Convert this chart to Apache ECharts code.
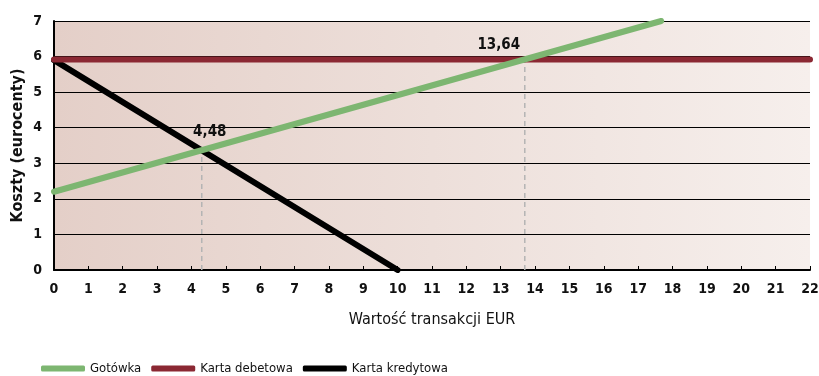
<!DOCTYPE html>
<html><head><meta charset="utf-8">
<script src="https://cdn.jsdelivr.net/npm/echarts@6/dist/echarts.min.js"></script>
<style>html,body{margin:0;padding:0;background:#fff}#c{width:819px;height:376px}</style>
</head><body><div id="c"></div>
<script>
const seriesNames = ['Gotówka', 'Karta debetowa', 'Karta kredytowa'];
const gotowka = [[0, 2.2], [17.67, 7.0]];
const debetowa = [[0, 5.92], [22, 5.92]];
const kredytowa = [[0, 5.9], [10, 0]];
const crossPoints = [[4.3, 3.37], [13.7, 5.92]];
const crossLabels = ['4,48', '13,64'];
const xTicks = {min: 0, max: 22, interval: 1};
const yTicks = {min: 0, max: 7, interval: 1};

const FONT = "'Liberation Sans Narrow','DejaVu Sans Condensed',sans-serif";
const colors = {g: '#7db671', r: '#8b2833', k: '#000000'};

const chart = echarts.init(document.getElementById('c'), null, {renderer: 'canvas'});
chart.setOption({
  animation: false,
  textStyle: {fontFamily: FONT},
  grid: {
    left: 54, right: 9, top: 21, bottom: 106, show: true, borderWidth: 0,
    outerBoundsMode: 'none', containLabel: false,
    backgroundColor: {type: 'linear', x: 0, y: 0, x2: 1, y2: 0,
      colorStops: [{offset: 0, color: '#e4cfc8'}, {offset: 1, color: '#f6efec'}]}
  },
  legend: {
    data: seriesNames, left: 36, top: 357, icon: 'roundRect',
    itemWidth: 44, itemHeight: 6, itemGap: 10,
    textStyle: {fontFamily: FONT, fontSize: 13, color: '#111'}
  },
  xAxis: {
    type: 'value', min: xTicks.min, max: xTicks.max, interval: xTicks.interval,
    name: 'Wartość transakcji EUR', nameLocation: 'middle', nameGap: 42,
    nameTextStyle: {fontFamily: FONT, fontSize: 16, color: '#111'},
    axisLine: {lineStyle: {color: '#000', width: 2}},
    axisTick: {inside: true, length: 4, lineStyle: {color: '#000'}},
    axisLabel: {fontFamily: FONT, fontSize: 14, fontWeight: 'bold', color: '#111', margin: 12},
    splitLine: {show: false}
  },
  yAxis: {
    type: 'value', min: yTicks.min, max: yTicks.max, interval: yTicks.interval,
    name: 'Koszty (eurocenty)', nameLocation: 'middle', nameGap: 28, nameRotate: 90,
    nameMoveOverlap: false,
    nameTextStyle: {fontFamily: FONT, fontSize: 16, fontWeight: 'bold', color: '#111'},
    axisLine: {show: true, lineStyle: {color: '#000', width: 2}},
    axisTick: {show: false},
    axisLabel: {fontFamily: FONT, fontSize: 14, fontWeight: 'bold', color: '#111', margin: 12},
    splitLine: {show: true, lineStyle: {color: '#000', width: 1}}
  },
  series: [
    {type: 'line', name: 'guide1', data: [[crossPoints[0][0], 0], crossPoints[0]], symbol: 'none',
     lineStyle: {color: '#b4b4b4', width: 1.5, type: [5, 4]}, z: 1, silent: true},
    {type: 'line', name: 'guide2', data: [[crossPoints[1][0], 0], crossPoints[1]], symbol: 'none',
     lineStyle: {color: '#b4b4b4', width: 1.5, type: [5, 4]}, z: 1, silent: true},
    {type: 'line', name: seriesNames[2], data: kredytowa, symbol: 'none', color: colors.k,
     lineStyle: {color: colors.k, width: 6, cap: 'round'}, z: 2},
    {type: 'line', name: seriesNames[1], data: debetowa, symbol: 'none', color: colors.r,
     lineStyle: {color: colors.r, width: 6, cap: 'round'}, z: 3},
    {type: 'line', name: seriesNames[0], data: gotowka, symbol: 'none', color: colors.g,
     lineStyle: {color: colors.g, width: 6, cap: 'round'}, z: 4},
    {type: 'scatter', name: 'labels', symbolSize: 0, z: 5, silent: true,
     itemStyle: {opacity: 1},
     data: [
       {value: crossPoints[0], label: {show: true, formatter: crossLabels[0], offset: [8, -6]}},
       {value: crossPoints[1], label: {show: true, formatter: crossLabels[1], offset: [-26, -2]}}
     ],
     label: {position: 'top', fontFamily: FONT, fontSize: 15, fontWeight: 'bold', color: '#111'}}
  ]
});
</script></body></html>
